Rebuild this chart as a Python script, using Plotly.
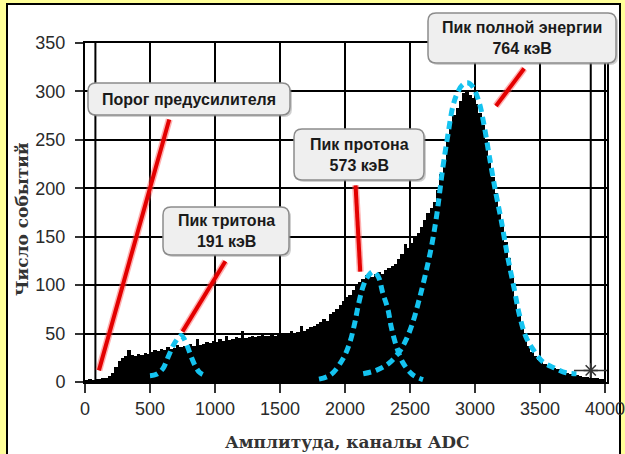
import plotly.graph_objects as go

# ---------------- data ----------------
BIN_WIDTH = 25
bin_centers = [BIN_WIDTH * i + BIN_WIDTH / 2 for i in range(160)]
counts = [
    2, 3, 2, 3, 3, 4, 4, 6, 9, 15,
    22, 25, 27, 33, 28, 27, 29, 28, 30, 29,
    31, 33, 32, 34, 33, 36, 34, 35, 38, 36,
    37, 36, 39, 37, 44, 38, 39, 41, 40, 42,
    41, 44, 42, 47, 43, 44, 46, 45, 53, 45,
    46, 48, 46, 47, 50, 47, 48, 49, 47, 50,
    49, 51, 50, 53, 51, 52, 58, 53, 55, 57,
    58, 60, 62, 65, 63, 70, 72, 75, 80, 84,
    88, 90, 95, 99, 103, 106, 110, 112, 108, 111,
    114, 112, 116, 118, 120, 122, 127, 132, 142, 138,
    144, 150, 154, 160, 167, 175, 180, 186, 198, 215,
    228, 250, 265, 276, 283, 290, 298, 300, 296, 293,
    287, 278, 265, 250, 228, 212, 195, 180, 162, 145,
    128, 108, 88, 70, 56, 45, 37, 31, 27, 23,
    21, 19, 17, 16, 14, 13, 11, 10, 9, 8,
    7, 7, 6, 5, 5, 4, 4, 4, 3, 3,
]

triton_x = [500, 550, 600, 640, 680, 720, 740, 760, 790, 820, 850, 880, 910]
triton_y = [6.5, 8, 14, 26, 38, 46, 48, 45, 36, 25, 16, 10, 7.5]

proton_x = [1800, 1890, 1980, 2035, 2075, 2100, 2140, 2175, 2215, 2255, 2290, 2330, 2355, 2395, 2445, 2520, 2600]
proton_y = [3, 7.5, 23, 40, 61, 78, 99, 109, 114, 109, 92, 75, 57, 37, 20, 7.5, 2.5]

full_x = [2140, 2240, 2340, 2420, 2470, 2520, 2570, 2620, 2665, 2705, 2750, 2790, 2830, 2866, 2905,
          2943, 2982, 3033, 3071, 3110, 3160, 3200, 3250, 3300, 3340, 3390, 3440, 3520, 3610, 3700, 3780]
full_y = [8.5, 12, 19.6, 31.6, 43.7, 61, 85, 112, 140, 172, 219, 254, 285, 299, 307,
          309, 305, 288, 264, 233, 195, 168, 130, 97, 70, 47, 35, 21, 14.5, 9.5, 8.5]

marker_x = [3890]
marker_y = [12]

labels = ["Порог предусилителя", "Пик тритона<br>191 кэВ",
          "Пик протона<br>573 кэВ", "Пик полной энергии<br>764 кэВ"]
# pointer lines (data coordinates: from label end to peak)
pointer_x0 = [648, 1080, 2081, 3378]
pointer_y0 = [271, 124.6, 203, 323.6]
pointer_x1 = [107, 750, 2117, 3161]
pointer_y1 = [12, 52, 114, 285]

x_ticks = [0, 500, 1000, 1500, 2000, 2500, 3000, 3500, 4000]
y_ticks = [0, 50, 100, 150, 200, 250, 300, 350]

# ---------------- layout helpers (pixel -> paper) ----------------
W, H = 625, 454
L, T, PW, PH = 85, 43, 522, 339


def px(xp):
    return (xp - L) / PW


def py(yp):
    return (T + PH - yp) / PH


def rounded_rect(x0, y0, x1, y1, r):
    rx, ry = r / PW, r / PH
    X0, X1 = px(x0), px(x1)
    Y0, Y1 = py(y0), py(y1)  # Y0 top (bigger), Y1 bottom
    return (f"M{X0 + rx},{Y0} L{X1 - rx},{Y0} Q{X1},{Y0} {X1},{Y0 - ry} "
            f"L{X1},{Y1 + ry} Q{X1},{Y1} {X1 - rx},{Y1} "
            f"L{X0 + rx},{Y1} Q{X0},{Y1} {X0},{Y1 + ry} "
            f"L{X0},{Y0 - ry} Q{X0},{Y0} {X0 + rx},{Y0} Z")


boxes = [(88, 83, 290, 115), (163, 207, 289, 255), (294, 129, 424, 180), (428, 13, 616, 63)]

fig = go.Figure()

fig.add_trace(go.Bar(x=bin_centers, y=counts, width=BIN_WIDTH,
                     marker=dict(color="black", line=dict(width=0)),
                     showlegend=False, hoverinfo="skip"))

cyan = "#14C3F0"
for xs, ys in [(triton_x, triton_y), (proton_x, proton_y), (full_x, full_y)]:
    fig.add_trace(go.Scatter(x=xs, y=ys, mode="lines",
                             line=dict(color=cyan, width=5, dash="8px,5px", shape="spline"),
                             showlegend=False, hoverinfo="skip"))

fig.add_trace(go.Scatter(x=marker_x, y=marker_y, mode="markers",
                         marker=dict(symbol="asterisk-open", size=12, color="#333",
                                     line=dict(color="#333", width=1.5)),
                         showlegend=False, hoverinfo="skip"))
fig.add_trace(go.Scatter(x=marker_x, y=marker_y, mode="markers",
                         marker=dict(symbol="line-ew-open", size=24, color="#333",
                                     line=dict(color="#333", width=1.5)),
                         showlegend=False, hoverinfo="skip"))

shapes = []
# white card with black border on yellow background
shapes.append(dict(type="rect", xref="paper", yref="paper",
                   x0=px(7), x1=px(620), y0=py(4), y1=py(470),
                   fillcolor="white", line=dict(color="black", width=2), layer="below"))
# extra vertical grid lines present in the original
for gx in [80, 3890]:
    shapes.append(dict(type="line", xref="x", yref="paper", x0=gx, x1=gx, y0=0, y1=1,
                       line=dict(color="black", width=2), layer="below"))
# red pointer lines
for a, b, c, d in zip(pointer_x0, pointer_y0, pointer_x1, pointer_y1):
    shapes.append(dict(type="line", xref="x", yref="y", x0=a, y0=b, x1=c, y1=d,
                       line=dict(color="rgba(255,80,80,0.45)", width=7), layer="above"))
    shapes.append(dict(type="line", xref="x", yref="y", x0=a, y0=b, x1=c, y1=d,
                       line=dict(color="#E30000", width=4), layer="above"))
# label boxes
for (x0, y0, x1, y1) in boxes:
    shapes.append(dict(type="path", xref="paper", yref="paper",
                       path=rounded_rect(x0 + 2, y0 + 2, x1 + 2, y1 + 2, 8),
                       fillcolor="rgba(120,120,120,0.35)", line=dict(width=0), layer="above"))
    shapes.append(dict(type="path", xref="paper", yref="paper",
                       path=rounded_rect(x0, y0, x1, y1, 8),
                       fillcolor="#EFEFEF", line=dict(color="#8C8C8C", width=1.5), layer="above"))

annotations = []
for lab, (x0, y0, x1, y1) in zip(labels, boxes):
    annotations.append(dict(text=lab, xref="paper", yref="paper",
                            x=px((x0 + x1) / 2), y=py((y0 + y1) / 2),
                            xanchor="center", yanchor="middle", showarrow=False,
                            font=dict(family="Liberation Sans, Arial", size=16, color="#1a1a1a",
                                      weight="bold")))
annotations.append(dict(text="Амплитуда, каналы ADC", xref="paper", yref="paper",
                        x=px(347), y=py(442), xanchor="center", yanchor="middle", showarrow=False,
                        font=dict(family="DejaVu Serif", size=17, color="#333", weight="bold")))
annotations.append(dict(text="Число событий", xref="paper", yref="paper",
                        x=px(22), y=py(219), xanchor="center", yanchor="middle", showarrow=False,
                        textangle=-90,
                        font=dict(family="DejaVu Serif", size=17, color="#333", weight="bold")))

fig.update_layout(
    width=W, height=H,
    margin=dict(l=L, r=W - L - PW, t=T, b=H - T - PH),
    paper_bgcolor="#FFFF99", plot_bgcolor="white",
    bargap=0,
    shapes=shapes, annotations=annotations,
    xaxis=dict(range=[0, 4015], tickvals=x_ticks, ticktext=[str(v) for v in x_ticks],
               showgrid=True, gridcolor="black", gridwidth=2,
               showline=True, linecolor="black", linewidth=2, mirror=True,
               ticks="outside", ticklen=9, tickwidth=2, tickcolor="#333",
               ticklabeloverflow="allow",
               tickfont=dict(family="Liberation Sans, Arial", size=18, color="#2a2a2a"),
               zeroline=False, fixedrange=True, automargin=False),
    yaxis=dict(range=[0, 350], tickvals=y_ticks, ticktext=[str(v) for v in y_ticks],
               showgrid=True, gridcolor="black", gridwidth=2,
               showline=True, linecolor="black", linewidth=2, mirror=True,
               ticks="outside", ticklen=8, tickwidth=2, tickcolor="#333",
               ticklabelstandoff=6,
               tickfont=dict(family="Liberation Sans, Arial", size=18, color="#2a2a2a"),
               zeroline=False, fixedrange=True, automargin=False),
)

fig.write_html("out.html", config={"displayModeBar": False, "staticPlot": True},
               post_script="document.body.style.margin='0px';")
